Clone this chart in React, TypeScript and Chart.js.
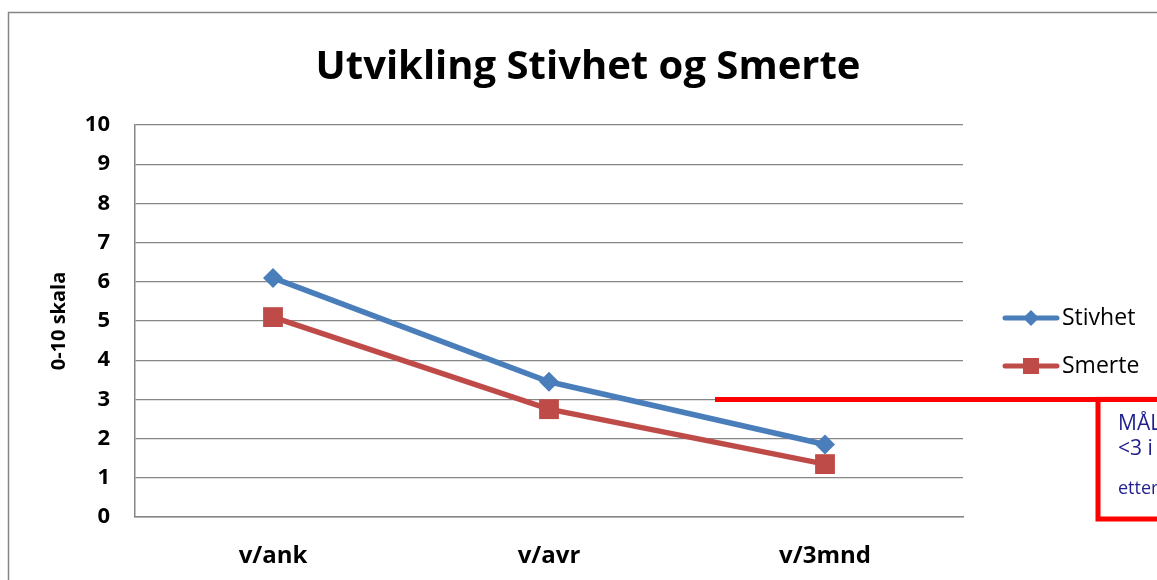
import React, { useEffect, useRef } from "react";
import { Chart, registerables } from "chart.js";

Chart.register(...registerables);

const title = "Utvikling Stivhet og Smerte";
const categories = ["v/ank", "v/avr", "v/3mnd"];
const stivhet = [6.1, 3.45, 1.85];
const smerte = [5.1, 2.75, 1.35];
const yTicks = [0, 1, 2, 3, 4, 5, 6, 7, 8, 9, 10];
const goalValue = 3;
const goalLines = ["MÅL", "<3 i", "etter"];

const FONT = "'Open Sans', sans-serif";
const BLUE = "#4A7EBB";
const RED = "#BE4B48";

const overlayPlugin = {
  id: "overlay",
  afterDraw(chart: any) {
    const ctx = chart.ctx;
    const y = chart.scales.y;
    ctx.save();
    // outer border
    ctx.strokeStyle = "#868686";
    ctx.lineWidth = 1.5;
    ctx.strokeRect(8.5, 12.5, 1300, 700);
    // title
    ctx.fillStyle = "#000";
    ctx.font = `bold 40px ${FONT}`;
    ctx.textAlign = "center";
    ctx.textBaseline = "alphabetic";
    ctx.fillText(title, 588, 79);
    // goal line
    const gy = y.getPixelForValue(goalValue);
    ctx.strokeStyle = "#FF0000";
    ctx.lineWidth = 5;
    ctx.beginPath();
    ctx.moveTo(715, gy);
    ctx.lineTo(1160, gy);
    ctx.stroke();
    // box
    ctx.strokeRect(1098, gy, 200, 519 - gy);
    ctx.fillStyle = "#1F1F8F";
    ctx.textBaseline = "middle";
    ctx.textAlign = "left";
    ctx.font = `21px ${FONT}`;
    ctx.fillText(goalLines[0], 1118, gy + 25);
    ctx.fillText(goalLines[1], 1118, gy + 50);
    ctx.font = `18px ${FONT}`;
    ctx.fillText(goalLines[2], 1118, gy + 89);
    // legend
    const items = [
      { label: "Stivhet", color: BLUE, style: "rectRot", yy: 318 },
      { label: "Smerte", color: RED, style: "rect", yy: 366 },
    ];
    for (const it of items) {
      ctx.strokeStyle = it.color;
      ctx.lineWidth = 5;
      ctx.lineCap = "round";
      ctx.beginPath();
      ctx.moveTo(1005, it.yy);
      ctx.lineTo(1057, it.yy);
      ctx.stroke();
      ctx.fillStyle = it.color;
      if (it.style === "rect") {
        ctx.fillRect(1031 - 8, it.yy - 8, 16, 16);
      } else {
        ctx.beginPath();
        ctx.moveTo(1031 - 8, it.yy);
        ctx.lineTo(1031, it.yy - 8);
        ctx.lineTo(1031 + 8, it.yy);
        ctx.lineTo(1031, it.yy + 8);
        ctx.closePath();
        ctx.fill();
      }
      ctx.fillStyle = "#000";
      ctx.font = `23px ${FONT}`;
      ctx.textBaseline = "middle";
      ctx.fillText(it.label, 1062, it.yy);
    }
    ctx.restore();
  },
};

export default function App() {
  const ref = useRef<HTMLCanvasElement>(null);
  useEffect(() => {
    if (!ref.current) return;
    const chart = new Chart(ref.current, {
      type: "line",
      data: {
        labels: categories,
        datasets: [
          {
            label: "Stivhet",
            data: stivhet,
            borderColor: BLUE,
            backgroundColor: BLUE,
            borderWidth: 5.5,
            pointStyle: "rectRot",
            pointRadius: 10,
            pointBorderWidth: 0,
            tension: 0,
          },
          {
            label: "Smerte",
            data: smerte,
            borderColor: RED,
            backgroundColor: RED,
            borderWidth: 5.5,
            pointStyle: "rect",
            pointRadius: 14,
            pointBorderWidth: 0,
            tension: 0,
          },
        ],
      },
      options: {
        animation: false,
        responsive: false,
        layout: { padding: { left: 0, right: 194, top: 125, bottom: 0 } },
        plugins: {
          legend: { display: false },
          tooltip: { enabled: false },
          title: { display: false },
        },
        scales: {
          x: {
            offset: true,
            grid: { display: false, drawTicks: false },
            border: { color: "#868686", width: 1.5 },
            ticks: {
              color: "#000",
              font: { family: FONT, size: 24, weight: "bold" },
              padding: 25,
            },
            afterFit(scale: any) {
              scale.height = 63;
            },
          },
          y: {
            min: 0,
            max: 10,
            afterBuildTicks(scale: any) {
              scale.ticks = yTicks.map((v) => ({ value: v }));
            },
            grid: { color: "#868686", lineWidth: 1.2, drawTicks: false },
            border: { color: "#868686", width: 1.5 },
            ticks: {
              color: "#000",
              font: { family: FONT, size: 22, weight: "bold" },
              padding: 25,
            },
            title: {
              display: true,
              text: "0-10 skala",
              color: "#000",
              font: { family: FONT, size: 20, weight: "bold" },
              padding: { top: 47, bottom: 0 },
            },
            afterFit(scale: any) {
              scale.width = 135;
            },
          },
        },
      },
      plugins: [overlayPlugin],
    });
    return () => chart.destroy();
  }, []);
  return (
    <div style={{ position: "fixed", left: 0, top: 0, width: 1157, height: 580, background: "#fff" }}>
      <canvas ref={ref} width={1157} height={580} />
    </div>
  );
}
